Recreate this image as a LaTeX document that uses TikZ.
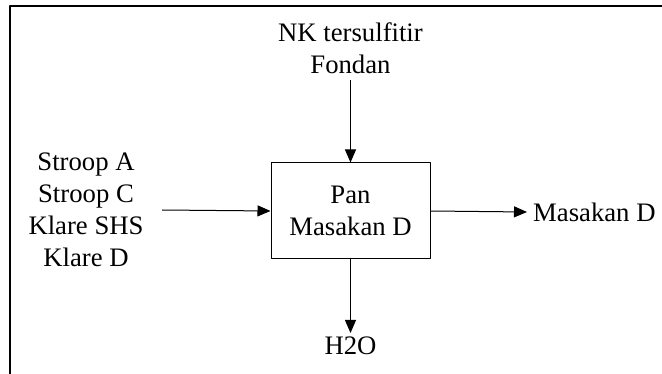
\documentclass[tikz,border=0pt]{standalone}
\usepackage{fontspec}
\setmainfont{Liberation Serif}
\usetikzlibrary{arrows.meta,positioning}
\begin{document}
\begin{tikzpicture}[x=1pt,y=-1pt,line join=round,>={Triangle[length=13pt,width=11pt]}]
	\tikzset{every node/.style={font=\fontsize{26.7}{32}\selectfont,align=center},
		unit/.style={draw,line width=1pt,minimum width=159pt,minimum height=96pt,inner sep=0pt},
		flow/.style={->,line width=1pt}}
	\useasboundingbox (0,0) rectangle (662,374);
	% frame
	\draw[line width=2pt] (10,374)--(10,6)--(662,6);
	% unit
	\node[unit] (pan) at (350.5,211) {Pan\\Masakan D};
	\node[inner sep=6pt,anchor=south] (nk) at (350.5,80) {NK tersulfitir\\Fondan};
	\node (feed) at (86,210) {Stroop A\\Stroop C\\Klare SHS\\Klare D};
	\node[anchor=west,inner sep=6pt] (prod) at (527,212) {Masakan D};
	\node[anchor=north,inner sep=0pt] (water) at (350.5,337) {H2O};
	% streams
	\draw[flow] (nk.south)--(pan.north);
	\draw[flow] ([xshift=15pt]feed.east)--(pan.west);
	\draw[flow] (pan.east)--(prod.west);
	\draw[flow] (pan.south)--([yshift=4pt]water.north);
\end{tikzpicture}
\end{document}
